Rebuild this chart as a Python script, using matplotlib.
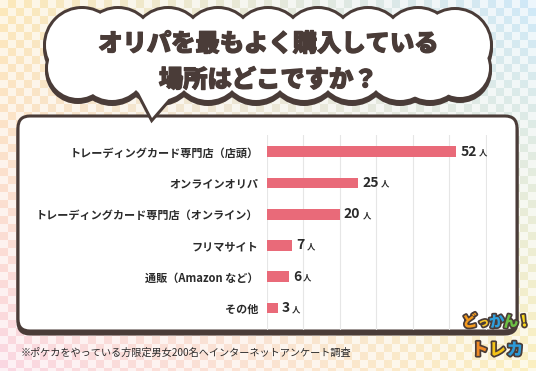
import numpy as np
import matplotlib
matplotlib.use("Agg")
import matplotlib.pyplot as plt
import matplotlib.patheffects as pe
from matplotlib.patches import Circle, FancyBboxPatch, Polygon, Rectangle
from matplotlib.offsetbox import TextArea, HPacker, AnnotationBbox

plt.rcParams["font.family"] = ["Noto Sans CJK JP", "DejaVu Sans"]

# データ
title_lines = ["オリパを最もよく購入している", "場所はどこですか？"]
categories = [
    "トレーディングカード専門店（店頭）",
    "オンラインオリパ",
    "トレーディングカード専門店（オンライン）",
    "フリマサイト",
    "通販（Amazon など）",
    "その他",
]
counts = [52, 25, 20, 7, 6, 3]
unit = "人"
xticks = [0, 10, 20, 30, 40, 50, 60]
note = "※ポケカをやっている方限定男女200名へインターネットアンケート調査"

W, H = 536, 371
DARK = "#4a3c38"
BAR = "#e96a79"
TEXT = "#2b2b2b"

fig = plt.figure(figsize=(W / 100, H / 100), dpi=100)

# 背景（市松模様）: ピクセル座標の軸
bg = fig.add_axes([0, 0, 1, 1])
yy, xx = np.mgrid[0:H, 0:W]
u = (xx / W)[..., None]
v = (yy / H)[..., None]
tl = np.array([251, 218, 140]) / 255
tr = np.array([175, 218, 245]) / 255
bl = np.array([248, 188, 208]) / 255
br = np.array([250, 230, 150]) / 255
base = tl * (1 - u) * (1 - v) + tr * u * (1 - v) + bl * (1 - u) * v + br * u * v
checker = ((xx // 8 + yy // 8) % 2)[..., None]
strength = np.where(checker == 1, 0.6, 0.22)
img = 1 - strength * (1 - base)
bg.imshow(img, extent=(0, W, H, 0), aspect="auto", interpolation="nearest", zorder=0)
bg.set_xlim(0, W)
bg.set_ylim(H, 0)
bg.axis("off")

# パネル
bg.add_patch(FancyBboxPatch((18, 119), 499, 215, boxstyle="round,pad=0,rounding_size=12",
                            fc=DARK, ec=DARK, lw=2.2, zorder=1))
bg.add_patch(FancyBboxPatch((18, 116), 499, 215, boxstyle="round,pad=0,rounding_size=12",
                            fc="white", ec=DARK, lw=2.2, zorder=2))

# 吹き出し（雲形）
top_x = [118, 168, 218, 268, 318, 368, 418]
bot_x = [112, 160, 208, 256, 304, 352, 400, 430]
circles = [(82, 45, 36), (78, 68, 30), (455, 45, 35), (460, 68, 29)]
circles += [(x, 44, 35) for x in top_x]
circles += [(x, 66, 34) for x in bot_x]

for cx, cy, r in circles:
    bg.add_patch(Circle((cx, cy + 3), r + 3, fc=DARK, ec="none", zorder=3))
    bg.add_patch(Circle((cx, cy), r + 3, fc=DARK, ec="none", zorder=3))
tail = [(132, 72), (138, 91), (152, 118), (172, 95), (178, 72)]
bg.add_patch(Polygon(tail, closed=True, fc="white", ec=DARK, lw=4.3, joinstyle="miter", zorder=4))
for cx, cy, r in circles:
    bg.add_patch(Circle((cx, cy), r, fc="white", ec="none", zorder=5))
bg.add_patch(Rectangle((75, 30), 390, 50, fc="white", ec="none", zorder=5))
bg.add_patch(Polygon(tail, closed=True, fc="white", ec="none", zorder=6))

title_fx = [pe.withStroke(linewidth=0.9, foreground=DARK)]
bg.text(268, 44, title_lines[0], ha="center", va="center", fontsize=17.5,
        fontweight="heavy", color=DARK, path_effects=title_fx, zorder=7)
bg.text(268, 80, title_lines[1], ha="center", va="center", fontsize=17.5,
        fontweight="heavy", color=DARK, path_effects=title_fx, zorder=7)

bg.text(21, 353, note, ha="left", va="center", fontsize=7.3, color=TEXT, zorder=7)

# 棒グラフ
ax = fig.add_axes([266.7 / W, 1 - 330 / H, 220 / W, 195 / H])
ax.patch.set_alpha(0)
y = np.arange(len(categories))
ax.barh(y, counts, height=0.34, color=BAR, zorder=2)
ax.set_xlim(0, 60.3)
ax.set_ylim(5.7, -0.53)
ax.set_xticks(xticks)
ax.xaxis.grid(True, color="#e6e6e6", lw=0.8, zorder=0)
ax.set_axisbelow(True)
ax.tick_params(axis="x", length=0, labelbottom=False)
ax.set_yticks(y)
ax.set_yticklabels(categories, fontsize=8, fontweight="bold", color=TEXT)
ax.tick_params(axis="y", length=0, pad=6)
for s in ax.spines.values():
    s.set_visible(False)

for i, c in enumerate(counts):
    pack = HPacker(children=[
        TextArea(str(c), textprops=dict(fontsize=10, fontweight="bold", color=TEXT)),
        TextArea(unit, textprops=dict(fontsize=6, fontweight="bold", color=TEXT)),
    ], align="baseline", pad=0, sep=1.5)
    ab = AnnotationBbox(pack, (c, i), xybox=(3, 0), xycoords="data", boxcoords="offset points",
                        box_alignment=(0, 0.5), frameon=False, pad=0, annotation_clip=False)
    ax.add_artist(ab)

# ロゴ
stroke = [pe.withStroke(linewidth=2.5, foreground=DARK)]
logo1 = [("ど", "#f59b1e"), ("っ", "#f7c52a"), ("か", "#2f9fdc"), ("ん", "#6cbf45"), ("!", "#f9d71c")]
logo2 = [("ト", "#f08a24"), ("レ", "#f5c518"), ("カ", "#2c9ad8")]
for k, (ch, col) in enumerate(logo1):
    fig.text((470 + k * 13.5) / W, 1 - 322 / H, ch, fontsize=11 if ch != "っ" else 8,
             fontweight="heavy", color=col, ha="center", va="center", rotation=8,
             path_effects=stroke, zorder=10)
for k, (ch, col) in enumerate(logo2):
    fig.text((480 + k * 17.5) / W, 1 - 350 / H, ch, fontsize=12, fontweight="heavy",
             color=col, ha="center", va="center", path_effects=stroke, zorder=10)

fig.savefig("out.png", dpi=100)
